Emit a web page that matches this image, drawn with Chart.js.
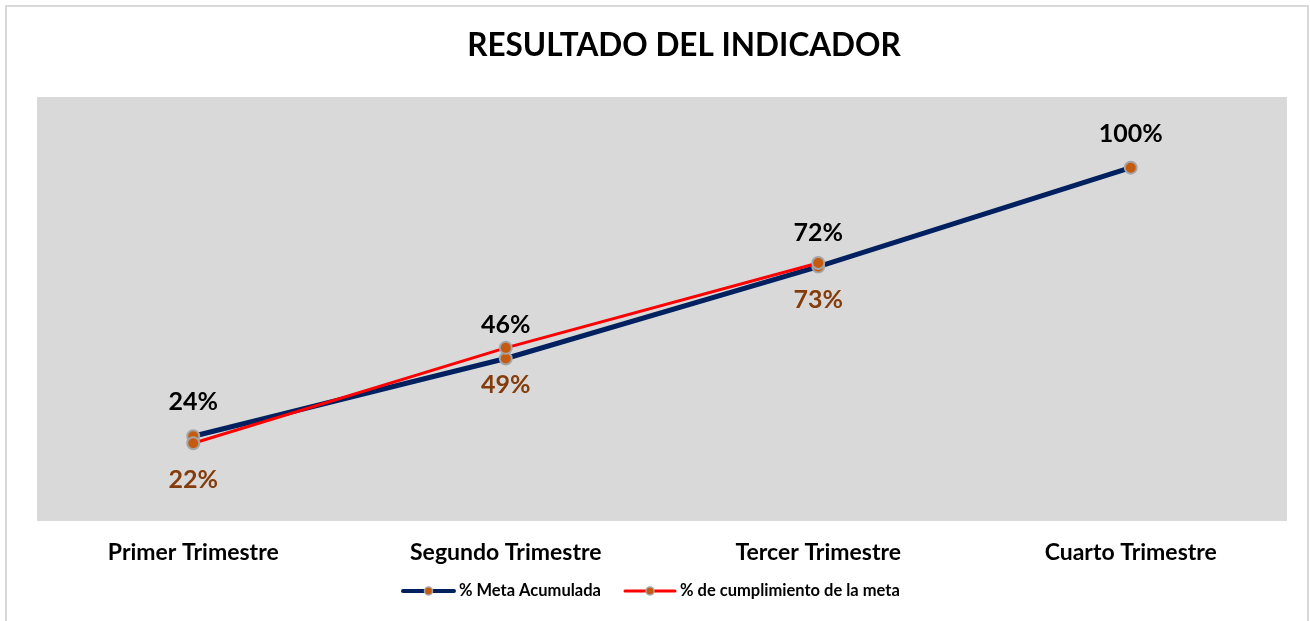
<!DOCTYPE html>
<html>
<head>
<meta charset="utf-8">
<script src="https://cdn.jsdelivr.net/npm/chart.js@4"></script>
<style>
  html, body { margin: 0; padding: 0; background: #fff; }
  #wrap { width: 1310px; height: 621px; position: relative; }
</style>
</head>
<body>
<div id="wrap"><canvas id="chart"></canvas></div>
<script>
// chart data
const categories = ['Primer Trimestre', 'Segundo Trimestre', 'Tercer Trimestre', 'Cuarto Trimestre'];
const metaAcumulada = [24, 46, 72, 100];
const cumplimiento = [22, 49, 73, null];
const seriesNames = ['% Meta Acumulada', '% de cumplimiento de la meta'];
const chartTitle = 'RESULTADO DEL INDICADOR';

const FONT = 'Lato, "Open Sans", sans-serif';

// background, frame, plot area fill and title
const frame = {
  id: 'frame',
  beforeDraw(chart) {
    const { ctx, chartArea: a } = chart;
    ctx.save();
    ctx.fillStyle = '#fff';
    ctx.fillRect(0, 0, chart.width, chart.height);
    ctx.strokeStyle = '#d9d9d9';
    ctx.lineWidth = 2;
    ctx.strokeRect(6, 6, 1302, 640);
    ctx.fillStyle = '#d9d9d9';
    ctx.fillRect(a.left, a.top, a.right - a.left, a.bottom - a.top);
    // title sits a bit right of centre, like the original
    ctx.fillStyle = '#000';
    ctx.font = 'bold 31.5px ' + FONT;
    ctx.textAlign = 'center';
    ctx.textBaseline = 'middle';
    ctx.fillText(chartTitle, 684, 46);
    ctx.restore();
  }
};

// value labels: meta above in black, cumplimiento below in brown
const valueLabels = {
  id: 'valueLabels',
  afterDatasetsDraw(chart) {
    const ctx = chart.ctx;
    ctx.save();
    ctx.font = 'bold 25px ' + FONT;
    ctx.textAlign = 'center';
    ctx.textBaseline = 'middle';
    chart.data.datasets.forEach((ds, i) => {
      const meta = chart.getDatasetMeta(i);
      meta.data.forEach((pt, j) => {
        const v = ds.data[j];
        if (v == null) return;
        if (i === 0) {
          ctx.fillStyle = '#000';
          ctx.fillText(v + '%', pt.x, pt.y - 34);
        } else {
          ctx.fillStyle = '#843c0c';
          ctx.fillText(v + '%', pt.x, pt.y + 37);
        }
      });
    });
    ctx.restore();
  }
};

// legend with line + marker swatches
const customLegend = {
  id: 'customLegend',
  afterDraw(chart) {
    const ctx = chart.ctx;
    const items = [
      { x: 403, w: 51, color: '#002060', lw: 4, text: seriesNames[0] },
      { x: 625, w: 50, color: '#ff0000', lw: 3, text: seriesNames[1] }
    ];
    const y = 591;
    ctx.save();
    items.forEach(it => {
      ctx.strokeStyle = it.color;
      ctx.lineWidth = it.lw;
      ctx.lineCap = 'round';
      ctx.beginPath();
      ctx.moveTo(it.x, y);
      ctx.lineTo(it.x + it.w, y);
      ctx.stroke();
      ctx.beginPath();
      ctx.arc(it.x + it.w / 2, y, 4, 0, Math.PI * 2);
      ctx.fillStyle = '#c55a11';
      ctx.fill();
      ctx.strokeStyle = '#a5a5a5';
      ctx.lineWidth = 1.5;
      ctx.stroke();
      ctx.fillStyle = '#000';
      ctx.font = 'bold 16.5px ' + FONT;
      ctx.textAlign = 'left';
      ctx.textBaseline = 'middle';
      ctx.fillText(it.text, it.x + it.w + 5, y);
    });
    ctx.restore();
  }
};

new Chart(document.getElementById('chart'), {
  type: 'line',
  data: {
    labels: categories,
    datasets: [
      {
        label: seriesNames[0],
        data: metaAcumulada,
        borderColor: '#002060',
        borderWidth: 5,
        pointRadius: 6,
        pointBackgroundColor: '#c55a11',
        pointBorderColor: '#a5a5a5',
        pointBorderWidth: 2,
        tension: 0,
        order: 1
      },
      {
        label: seriesNames[1],
        data: cumplimiento,
        borderColor: '#ff0000',
        borderWidth: 3,
        pointRadius: 6,
        pointBackgroundColor: '#c55a11',
        pointBorderColor: '#a5a5a5',
        pointBorderWidth: 2,
        tension: 0,
        order: 0
      }
    ]
  },
  options: {
    responsive: true,
    maintainAspectRatio: false,
    animation: false,
    layout: { padding: { left: 37, right: 23, top: 97, bottom: 0 } },
    scales: {
      x: {
        offset: true,
        grid: { display: false },
        border: { display: false },
        ticks: {
          color: '#000',
          padding: 10,
          font: { family: FONT, size: 23, weight: 'bold' }
        },
        afterFit(scale) { scale.height = 100; }
      },
      y: {
        display: false,
        min: 0,
        max: 120
      }
    },
    plugins: {
      legend: { display: false },
      tooltip: { enabled: false },
      title: { display: false }
    }
  },
  plugins: [frame, valueLabels, customLegend]
});
</script>
</body>
</html>
